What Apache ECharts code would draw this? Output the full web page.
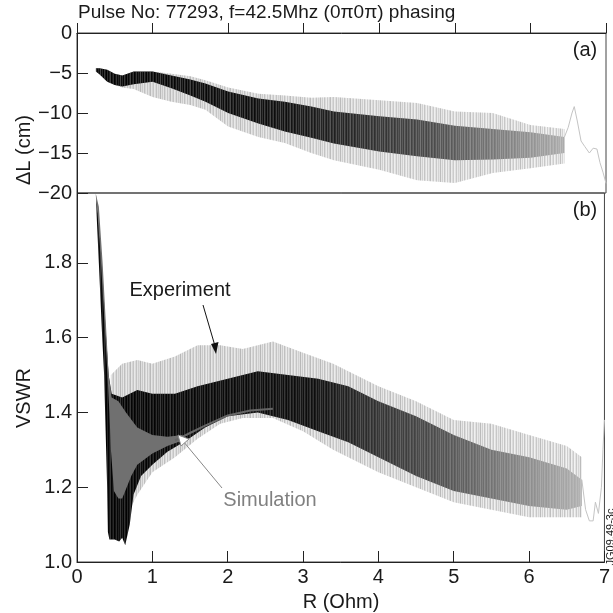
<!DOCTYPE html>
<html><head><meta charset="utf-8">
<script src="https://cdn.jsdelivr.net/npm/echarts@6/dist/echarts.min.js"></script>
<style>html,body{margin:0;padding:0;background:#fff}#c{width:613px;height:613px}</style>
</head><body><div id="c"></div>
<script>
// ---------- Panel (a): ΔL (cm) vs R ----------
const aR          = [0.25, 0.3, 0.4, 0.5, 0.6, 0.75, 1.0, 1.25, 1.5, 1.7, 2.0, 2.4, 2.75, 3.1, 3.4, 4.0, 4.5, 5.0, 5.5, 6.0, 6.45];
const aDenseUpper = [-4.4, -4.4, -4.6, -5.1, -5.3, -4.8, -4.8, -5.3, -5.8, -6.3, -7.3, -8.2, -8.6, -9.2, -9.8, -10.4, -10.8, -11.6, -12.0, -12.4, -13.0];
const aDenseLower = [-4.8, -5.2, -6.1, -6.5, -6.7, -6.4, -6.1, -6.9, -7.8, -8.6, -10.0, -11.3, -12.3, -13.1, -13.8, -14.8, -15.4, -15.9, -15.8, -15.6, -15.0];
const aLightUpper = [-4.4, -4.4, -4.6, -5.1, -5.3, -4.8, -4.8, -5.1, -5.4, -5.9, -6.8, -7.6, -7.8, -8.1, -8.0, -8.4, -8.75, -9.8, -10.0, -11.5, -12.0];
const aLightLower = [-4.8, -5.2, -6.1, -6.5, -6.8, -7.0, -8.0, -8.6, -9.0, -9.6, -11.7, -13.0, -13.75, -15.0, -15.9, -17.1, -18.4, -18.75, -17.5, -16.9, -16.3];
const aTailR = [6.45, 6.5, 6.55, 6.58, 6.62, 6.67, 6.72, 6.78, 6.83, 6.88, 6.92, 6.96, 7.0];
const aTailV = [-13, -11.8, -10, -9.2, -11, -13.5, -14.2, -15, -14.4, -14.5, -16.2, -17.4, -18.8];

// ---------- Panel (b): VSWR vs R ----------
// Experiment dense band outline (R, VSWR)
const bExpR = [0.25,0.28,0.33,0.38,0.42,0.46,0.6,0.8,1.0,1.3,1.6,2.0,2.4,2.8,3.2,3.6,4.0,4.5,5.0,5.5,6.0,6.5,6.7,
               6.7,6.5,6.0,5.5,5.0,4.5,4.0,3.6,3.2,2.8,2.4,2.0,1.7,1.45,1.2,1.0,0.85,0.75,0.7,0.64,0.6,0.56,0.5,0.43,0.41,0.40,0.38,0.36,0.33,0.29,0.26];
const bExpV = [1.985,1.93,1.80,1.62,1.50,1.45,1.44,1.46,1.45,1.45,1.47,1.49,1.51,1.50,1.49,1.47,1.43,1.39,1.34,1.30,1.28,1.25,1.22,
               1.15,1.14,1.15,1.17,1.19,1.23,1.28,1.32,1.35,1.38,1.40,1.39,1.36,1.325,1.295,1.26,1.23,1.18,1.10,1.045,1.065,1.055,1.06,1.06,1.08,1.20,1.35,1.50,1.62,1.80,1.93];
// Experiment spike envelope
const bSpikeR     = [0.45, 0.6, 0.8, 1.0, 1.3, 1.6, 1.9, 2.2, 2.6, 3.0, 3.4, 4.0, 4.5, 5.0, 5.5, 6.0, 6.5, 6.7];
const bSpikeUpper = [1.50, 1.53, 1.54, 1.53, 1.55, 1.58, 1.58, 1.57, 1.59, 1.56, 1.53, 1.47, 1.43, 1.38, 1.37, 1.34, 1.31, 1.28];
const bSpikeLower = [1.30, 1.10, 1.18, 1.24, 1.28, 1.33, 1.37, 1.385, 1.385, 1.35, 1.30, 1.24, 1.20, 1.16, 1.14, 1.12, 1.12, 1.12];
const bTailR = [6.7, 6.75, 6.8, 6.85, 6.88, 6.92, 6.96, 6.98, 7.0];
const bTailV = [1.22, 1.14, 1.11, 1.11, 1.16, 1.13, 1.2, 1.3, 1.38];
// Simulation outline and continuation line
const bSimR = [0.25,0.29,0.34,0.38,0.42,0.46,0.55,0.65,0.8,1.0,1.2,1.4, 1.4,1.2,1.0,0.8,0.72,0.66,0.6,0.55,0.49,0.45,0.43,0.40,0.36,0.31,0.27];
const bSimV = [1.985,1.95,1.80,1.65,1.50,1.44,1.43,1.40,1.36,1.34,1.335,1.34, 1.325,1.31,1.29,1.26,1.23,1.20,1.17,1.17,1.19,1.30,1.40,1.52,1.66,1.83,1.94];
const bSimLineR = [1.3, 1.5, 1.7, 2.0, 2.3, 2.6];
const bSimLineV = [1.325, 1.345, 1.365, 1.392, 1.405, 1.41];

// tick settings
const xTickStep = 1, aTickStep = 5, bTickStep = 0.2;

const FONT = "'Liberation Sans', Arial, Helvetica, sans-serif";
const TXT = '#1a1a1a';

function zip(xs, ys) { return xs.map((x, i) => [x, ys[i]]); }
function band(xs, up, lo) {
  return { xs: xs.concat(xs.slice().reverse()), ys: up.concat(lo.slice().reverse()) };
}
function polySeries(xi, yi, xs, ys, fill, z) {
  return {
    type: 'custom', xAxisIndex: xi, yAxisIndex: yi, z: z, silent: true, clip: true,
    data: [[xs[0], ys[0]]],
    renderItem: function (params, api) {
      const pts = xs.map((x, i) => api.coord([x, ys[i]]));
      return { type: 'polygon', shape: { points: pts }, style: { fill: fill, stroke: null } };
    }
  };
}
function grad(stops) {
  return new echarts.graphic.LinearGradient(0, 0, 1, 0, stops.map(s => ({ offset: s[0], color: s[1] })));
}
// streak texture (pure styling): vertical 1px lines of varying opacity
const STREAK = [0.9, 0.15, 0.55, 0.05, 0.75, 0.3, 0.0, 0.6, 0.1, 0.45, 0.85, 0.05, 0.35, 0.65, 0.0, 0.25, 0.7, 0.1, 0.5, 0.2];
function streaks(color, scale) {
  const c = document.createElement('canvas');
  c.width = STREAK.length; c.height = 6;
  const ctx = c.getContext('2d');
  STREAK.forEach((a, i) => {
    ctx.globalAlpha = Math.min(1, a * scale);
    ctx.fillStyle = color;
    ctx.fillRect(i, 0, 1, 6);
  });
  return { image: c, repeat: 'repeat' };
}

const aLight = band(aR, aLightUpper, aLightLower);
const aDense = band(aR, aDenseUpper, aDenseLower);
const bSpike = band(bSpikeR, bSpikeUpper, bSpikeLower);

const chart = echarts.init(document.getElementById('c'), null, { renderer: 'canvas' });
const axisCommon = {
  axisLine: { show: true, lineStyle: { color: '#222', width: 1 } },
  splitLine: { show: false },
  axisLabel: { fontFamily: FONT, fontSize: 20, color: TXT },
};
chart.setOption({
  animation: false,
  backgroundColor: '#fff',
  textStyle: { fontFamily: FONT },
  grid: [
    { left: 77, right: 7, top: 33, height: 160, show: true, borderColor: '#444', borderWidth: 1 },
    { left: 77, right: 7, top: 193, height: 369, show: true, borderColor: '#444', borderWidth: 1 }
  ],
  xAxis: [
    Object.assign({}, axisCommon, { gridIndex: 0, type: 'value', min: 0, max: 7, interval: xTickStep,
      axisLabel: { show: false }, axisTick: { show: true, inside: true, length: 10, lineStyle: { color: '#222' } } }),
    Object.assign({}, axisCommon, { gridIndex: 1, type: 'value', min: 0, max: 7, interval: xTickStep,
      axisLabel: { fontFamily: FONT, fontSize: 20, color: TXT, margin: 5 },
      axisTick: { show: true, inside: true, length: 11, lineStyle: { color: '#222' } } })
  ],
  yAxis: [
    Object.assign({}, axisCommon, { gridIndex: 0, type: 'value', min: -20, max: 0, interval: aTickStep,
      axisLabel: { fontFamily: FONT, fontSize: 20, color: TXT, margin: 5, formatter: v => String(v).replace('-', '\u2212') },
      axisTick: { show: true, inside: true, length: 11, lineStyle: { color: '#222' } } }),
    Object.assign({}, axisCommon, { gridIndex: 1, type: 'value', min: 1.0, max: 1.987, interval: bTickStep,
      axisLabel: { fontFamily: FONT, fontSize: 20, color: TXT, margin: 5, showMaxLabel: false, formatter: v => v.toFixed(1) },
      axisTick: { show: true, inside: true, length: 11, lineStyle: { color: '#222' } } })
  ],
  series: [
    // panel (a)
    polySeries(0, 0, aLight.xs, aLight.ys, grad([[0, '#e4e4e4'], [0.5, '#ececec'], [1, '#f3f3f3']]), 1),
    polySeries(0, 0, aLight.xs, aLight.ys, streaks('#8a8a8a', 0.55), 2),
    polySeries(0, 0, aDense.xs, aDense.ys, grad([[0, '#000'], [0.4, '#0d0d0d'], [0.55, '#262626'], [0.72, '#4a4a4a'], [0.86, '#7a7a7a'], [1, '#ababab']]), 3),
    polySeries(0, 0, aDense.xs, aDense.ys, streaks('#ffffff', 0.3), 4),
    { type: 'line', xAxisIndex: 0, yAxisIndex: 0, data: zip(aTailR, aTailV), showSymbol: false, silent: true,
      lineStyle: { color: '#c4c4c4', width: 1 }, z: 5 },

    // panel (b)
    polySeries(1, 1, bSpike.xs, bSpike.ys, grad([[0, '#e8e8e8'], [0.5, '#ececec'], [1, '#f3f3f3']]), 1),
    polySeries(1, 1, bSpike.xs, bSpike.ys, streaks('#7a7a7a', 0.5), 2),
    polySeries(1, 1, bExpR, bExpV, grad([[0, '#000'], [0.45, '#0d0d0d'], [0.55, '#2a2a2a'], [0.7, '#4c4c4c'], [0.85, '#7e7e7e'], [1, '#b0b0b0']]), 3),
    polySeries(1, 1, bExpR, bExpV, streaks('#ffffff', 0.25), 4),
    { type: 'line', xAxisIndex: 1, yAxisIndex: 1, data: zip(bTailR, bTailV), showSymbol: false, silent: true,
      lineStyle: { color: '#c4c4c4', width: 1 }, z: 5 },
    polySeries(1, 1, bSimR, bSimV, '#707070', 6),
    { type: 'line', xAxisIndex: 1, yAxisIndex: 1, data: zip(bSimLineR, bSimLineV), showSymbol: false, silent: true,
      lineStyle: { color: '#666', width: 2 }, z: 6 }
  ],
  graphic: [
    { type: 'text', left: 78, top: 3, style: { text: 'Pulse No: 77293, f=42.5Mhz (0\u03c00\u03c0) phasing', fontFamily: FONT, fontSize: 19, fill: TXT } },
    { type: 'text', x: 585, y: 50, style: { text: '(a)', fontFamily: FONT, fontSize: 20, fill: TXT, align: 'center', verticalAlign: 'middle' } },
    { type: 'text', x: 585, y: 210, style: { text: '(b)', fontFamily: FONT, fontSize: 20, fill: TXT, align: 'center', verticalAlign: 'middle' } },
    { type: 'text', x: 24, y: 150, rotation: Math.PI / 2, style: { text: '\u0394L (cm)', fontFamily: FONT, fontSize: 20, fill: TXT, align: 'center', verticalAlign: 'middle' } },
    { type: 'text', x: 24, y: 398, rotation: Math.PI / 2, style: { text: 'VSWR', fontFamily: FONT, fontSize: 20, fill: TXT, align: 'center', verticalAlign: 'middle' } },
    { type: 'text', x: 341, y: 602, style: { text: 'R (Ohm)', fontFamily: FONT, fontSize: 20, fill: TXT, align: 'center', verticalAlign: 'middle' } },
    { type: 'text', x: 180, y: 290, style: { text: 'Experiment', fontFamily: FONT, fontSize: 20, fill: TXT, align: 'center', verticalAlign: 'middle' } },
    { type: 'text', x: 270, y: 500, style: { text: 'Simulation', fontFamily: FONT, fontSize: 20, fill: '#808080', align: 'center', verticalAlign: 'middle' } },
    { type: 'line', shape: { x1: 203, y1: 305, x2: 215, y2: 346 }, style: { stroke: '#111', lineWidth: 1 }, z: 10 },
    { type: 'polygon', shape: { points: [[216, 354], [211, 344], [218.5, 342]] }, style: { fill: '#111' }, z: 10 },
    { type: 'line', shape: { x1: 222, y1: 488, x2: 183, y2: 441 }, style: { stroke: '#888', lineWidth: 1 }, z: 10 },
    { type: 'polygon', shape: { points: [[178, 435], [181, 446], [189, 439]] }, style: { fill: '#fff', stroke: '#888', lineWidth: 1 }, z: 10 },
    { type: 'text', x: 611, y: 537, rotation: Math.PI / 2, style: { text: 'JG09.49-3c', fontFamily: FONT, fontSize: 11, fill: TXT, align: 'center', verticalAlign: 'middle' } }
  ]
});
</script></body></html>
